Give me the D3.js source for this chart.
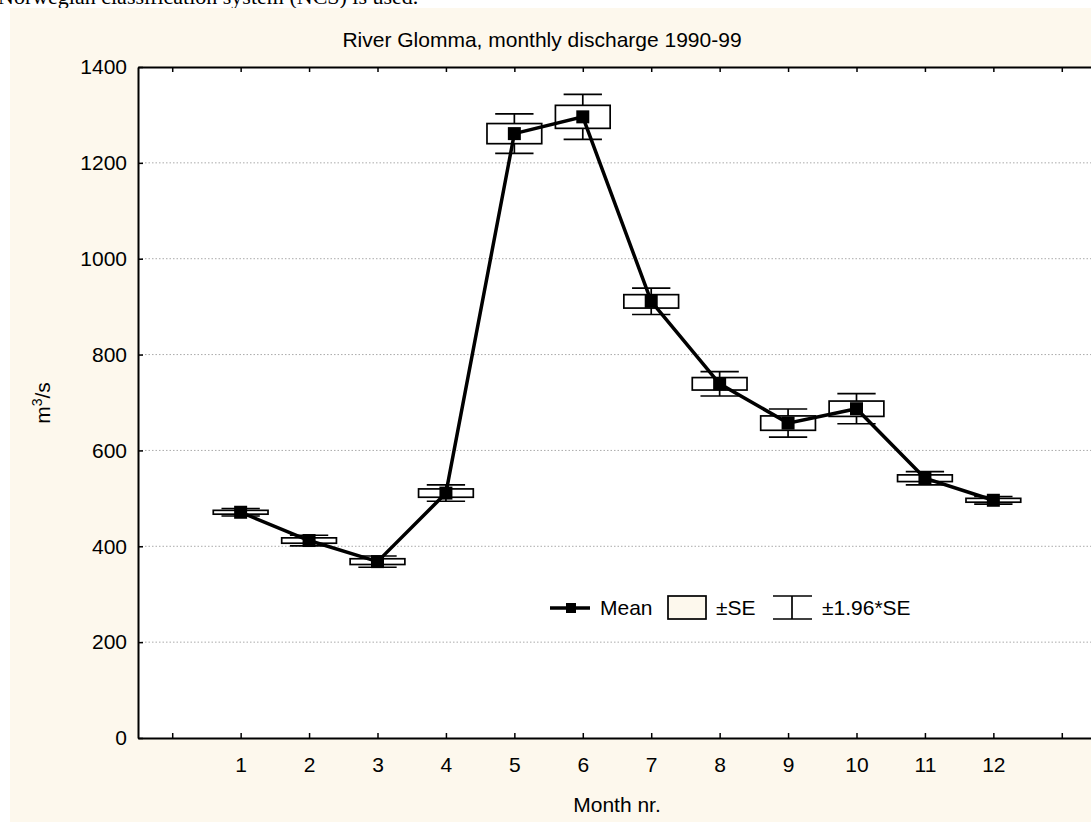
<!DOCTYPE html>
<html>
<head>
<meta charset="utf-8">
<script src="https://cdn.jsdelivr.net/npm/d3@7"></script>
<style>
  body { margin: 0; background: #fff; }
  svg { display: block; }
  text { font-family: "Liberation Sans", Arial, sans-serif; }
</style>
</head>
<body>
<svg id="chart"></svg>
<script>
  /* Data */
  var months = [1, 2, 3, 4, 5, 6, 7, 8, 9, 10, 11, 12];
  var means = [471, 412, 368, 511, 1261, 1296, 911, 739, 657, 687, 542, 496];
  var stdErr = [4, 5.6, 6, 8.7, 21, 24, 14, 13, 15, 16, 7, 4];
  var yTicks = [0, 200, 400, 600, 800, 1000, 1200, 1400];
  var xTicks = d3.range(0, 14);

  /* SVG properties */
  var width = 1091;
  var height = 822;
  var fs = "21px";
  var svg = d3.select("#chart").attr("width", width).attr("height", height);

  // text above the figure, cut by the page top
  svg.append("text")
     .attr("x", -2).attr("y", 4)
     .style("font-family", "'Liberation Serif', 'Times New Roman', serif")
     .style("font-size", "22px")
     .text("Norwegian classification system (NCS) is used.");

  svg.append("rect")
     .attr("x", 10).attr("y", 8)
     .attr("width", width - 10).attr("height", height - 8)
     .attr("fill", "#fdf8ed");

  /* scales */
  var x = d3.scaleLinear().domain([-0.5, 13.5]).range([138, 1096]);
  var y = d3.scaleLinear().domain([0, 1400]).range([738, 67]);

  svg.append("rect")
     .attr("x", x(-0.5)).attr("y", y(1400))
     .attr("width", x(13.5) - x(-0.5)).attr("height", y(0) - y(1400))
     .attr("fill", "#fff");

  // grid
  svg.append("g").selectAll("line")
     .data(yTicks.filter(function(d) { return d > 0 && d < 1400; }))
     .enter().append("line")
     .attr("x1", x(-0.5)).attr("x2", x(13.5))
     .attr("y1", function(d) { return y(d); })
     .attr("y2", function(d) { return y(d); })
     .attr("stroke", "#aaa")
     .attr("stroke-width", 1)
     .attr("stroke-dasharray", "1.5,2");

  /* axes */
  function styleAxis(g) {
    g.select(".domain").attr("stroke", "#000").attr("stroke-width", 2);
    g.selectAll(".tick line").attr("stroke", "#000").attr("stroke-width", 1.5);
    g.selectAll(".tick text").attr("fill", "#000").style("font-size", fs)
     .style("font-family", "'Liberation Sans', Arial, sans-serif");
  }

  svg.append("g")
     .attr("transform", "translate(0," + y(0) + ")")
     .call(d3.axisBottom(x).tickValues(xTicks).tickSize(-5).tickSizeOuter(0).tickPadding(19)
             .tickFormat(function(d) { return (d >= 1 && d <= 12) ? d : ""; }))
     .call(styleAxis);

  svg.append("g")
     .attr("transform", "translate(0," + y(1400) + ")")
     .call(d3.axisTop(x).tickValues(xTicks).tickSize(-5).tickSizeOuter(0).tickFormat(""))
     .call(styleAxis);

  svg.append("g")
     .attr("transform", "translate(" + x(-0.5) + ",0)")
     .call(d3.axisLeft(y).tickValues(yTicks).tickSize(-5).tickSizeOuter(0).tickPadding(11)
             .tickFormat(d3.format("d")))
     .call(styleAxis);

  svg.append("g")
     .attr("transform", "translate(" + x(13.5) + ",0)")
     .call(d3.axisRight(y).tickValues(yTicks).tickSize(-5).tickSizeOuter(0).tickFormat(""))
     .call(styleAxis);

  /* titles */
  svg.append("text")
     .attr("x", 542).attr("y", 47)
     .attr("text-anchor", "middle")
     .style("font-size", fs)
     .text("River Glomma, monthly discharge 1990-99");

  svg.append("text")
     .attr("x", (x(-0.5) + x(13.5)) / 2).attr("y", 812)
     .attr("text-anchor", "middle")
     .style("font-size", fs)
     .text("Month nr.");

  var yLab = svg.append("text")
     .attr("transform", "translate(50,403) rotate(-90)")
     .attr("text-anchor", "middle")
     .style("font-size", fs);
  yLab.append("tspan").text("m");
  yLab.append("tspan").attr("dy", -8).style("font-size", "14px").text("3");
  yLab.append("tspan").attr("dy", 8).text("/s");

  /* whiskers and boxes */
  var boxW = 0.8, capW = 0.56;
  var groups = svg.append("g").selectAll("g")
                  .data(months)
                  .enter()
                  .append("g");

  groups.append("line")
        .attr("x1", function(d) { return x(d); })
        .attr("x2", function(d) { return x(d); })
        .attr("y1", function(d, i) { return y(means[i] + 1.96 * stdErr[i]); })
        .attr("y2", function(d, i) { return y(means[i] - 1.96 * stdErr[i]); })
        .attr("stroke", "#000").attr("stroke-width", 1.7);
  [1, -1].forEach(function(s) {
    groups.append("line")
          .attr("x1", function(d) { return x(d - capW / 2); })
          .attr("x2", function(d) { return x(d + capW / 2); })
          .attr("y1", function(d, i) { return y(means[i] + s * 1.96 * stdErr[i]); })
          .attr("y2", function(d, i) { return y(means[i] + s * 1.96 * stdErr[i]); })
          .attr("stroke", "#000").attr("stroke-width", 1.7);
  });
  groups.append("rect")
        .attr("x", function(d) { return x(d - boxW / 2); })
        .attr("width", x(boxW) - x(0))
        .attr("y", function(d, i) { return y(means[i] + stdErr[i]); })
        .attr("height", function(d, i) { return y(means[i] - stdErr[i]) - y(means[i] + stdErr[i]); })
        .attr("fill", "#fff")
        .attr("stroke", "#000").attr("stroke-width", 1.7);

  /* mean line and markers */
  var line = d3.line()
               .x(function(d) { return x(d); })
               .y(function(d, i) { return y(means[i]); });
  svg.append("path")
     .datum(months)
     .attr("d", line)
     .attr("fill", "none")
     .attr("stroke", "#000")
     .attr("stroke-width", 3.5);

  var mk = 13;
  svg.append("g").selectAll("rect")
     .data(months)
     .enter().append("rect")
     .attr("x", function(d) { return x(d) - mk / 2; })
     .attr("y", function(d, i) { return y(means[i]) - mk / 2; })
     .attr("width", mk).attr("height", mk)
     .attr("fill", "#000");

  /* legend */
  var lg = svg.append("g");
  var ly = 608;
  lg.append("line").attr("x1", 550).attr("x2", 590).attr("y1", ly).attr("y2", ly)
    .attr("stroke", "#000").attr("stroke-width", 3.5);
  lg.append("rect").attr("x", 566).attr("y", ly - 5).attr("width", 10).attr("height", 10).attr("fill", "#000");
  lg.append("text").attr("x", 600).attr("y", ly + 7).style("font-size", fs).text("Mean");

  lg.append("rect").attr("x", 668).attr("y", ly - 12).attr("width", 38).attr("height", 23)
    .attr("fill", "#fdf8ed").attr("stroke", "#000").attr("stroke-width", 1.7);
  lg.append("text").attr("x", 716).attr("y", ly + 7).style("font-size", fs).text("±SE");

  lg.append("line").attr("x1", 773).attr("x2", 812).attr("y1", ly - 12).attr("y2", ly - 12)
    .attr("stroke", "#000").attr("stroke-width", 1.7);
  lg.append("line").attr("x1", 773).attr("x2", 812).attr("y1", ly + 11).attr("y2", ly + 11)
    .attr("stroke", "#000").attr("stroke-width", 1.7);
  lg.append("line").attr("x1", 792).attr("x2", 792).attr("y1", ly - 12).attr("y2", ly + 11)
    .attr("stroke", "#000").attr("stroke-width", 1.7);
  lg.append("text").attr("x", 822).attr("y", ly + 7).style("font-size", fs).text("±1.96*SE");
</script>
</body>
</html>
